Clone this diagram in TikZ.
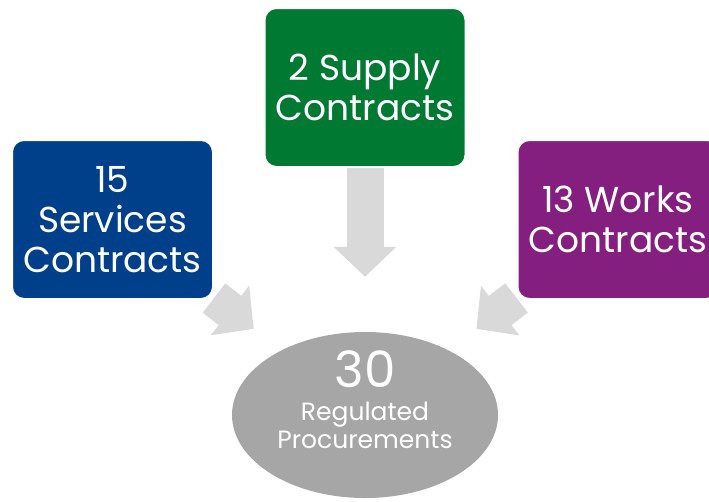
\documentclass[tikz,border=0pt]{standalone}
\usepackage{fontspec}
\setmainfont{Poppins}
\usetikzlibrary{positioning,arrows.meta,shapes.geometric}
\definecolor{svcblue}{HTML}{00408A}
\definecolor{supgreen}{HTML}{007A33}
\definecolor{wrkpurple}{HTML}{841F80}
\definecolor{feedgray}{HTML}{D9D9D9}
\definecolor{totalgray}{HTML}{A6A6A6}
\pgfdeclarelayer{background}
\pgfsetlayers{background,main}

\begin{document}
\begin{tikzpicture}[x=1pt, y=-1pt,
    box/.style={rectangle, rounded corners=12pt, draw=white, line width=2pt,
        minimum width=201pt, minimum height=159pt, inner sep=0pt,
        text=white, align=center, font=\fontsize{36}{40}\selectfont},
    feed/.style={feedgray, line width=37pt, -{Triangle[width=61pt, length=30pt]}}]
    \useasboundingbox (0,0) rectangle (709,501);

    \node (supply) [box, fill=supgreen] at (365,87.5) {2 Supply\\Contracts};
    \node (services) [on grid, box, fill=svcblue, below left=132pt and 252.5pt of supply] {15\\Services\\Contracts};
    \node (works) [on grid, box, fill=wrkpurple, below right=132pt and 253pt of supply] {13 Works\\Contracts};
    \node (total) [on grid, ellipse, fill=totalgray, minimum width=266pt, minimum height=166pt, inner sep=0pt,
        below=327.5pt of supply] {};
    \node (totallabel) [anchor=north, inner sep=0pt, text=white, align=center,
        font=\fontsize{25}{28}\selectfont]
        at ([yshift=65pt]total.center)
        {{\fontsize{50}{50}\selectfont 30}\\[5pt]Regulated\\Procurements};

    % arrows sit behind the boxes
    \begin{pgfonlayer}{background}
        \draw[feed, shorten >=55pt] (supply) -- (total);
        \draw[feed, shorten >=35pt] (services) -- (total);
        \draw[feed, shorten >=35pt] (works) -- (total);
    \end{pgfonlayer}
\end{tikzpicture}
\end{document}
